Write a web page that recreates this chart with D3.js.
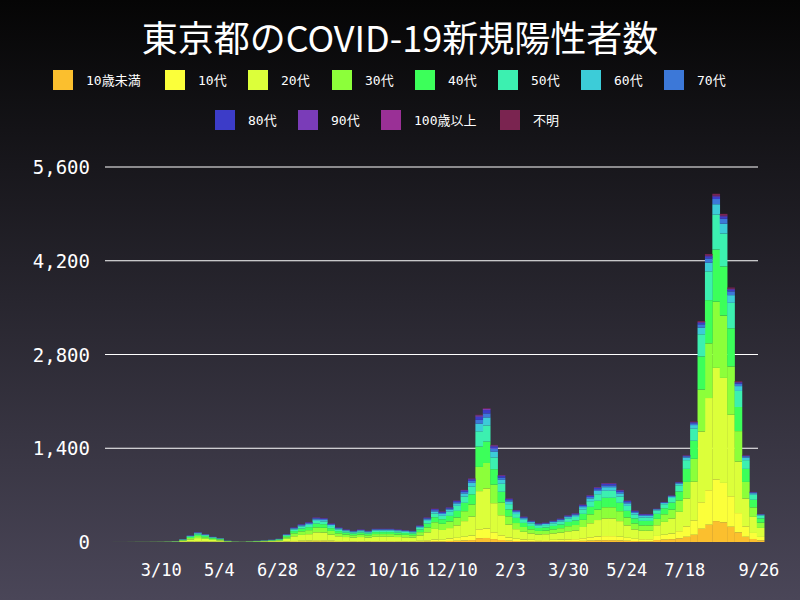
<!DOCTYPE html><html><head><meta charset="utf-8"><script src="https://cdn.jsdelivr.net/npm/d3@7"></script>
<style>body{margin:0}</style></head><body><svg id="c" width="800" height="600"></svg><script>
const ageGroups=["10歳未満","10代","20代","30代","40代","50代","60代","70代","80代","90代","100歳以上","不明"];
const colors=["#fbbf2e","#fbff3a","#dcff3a","#8cff3a","#3cff5a","#3cf0b0","#3cccd8","#3c78d8","#3c3cc8","#7a3cb8","#9a3096","#7a2450"];
const weekStarts=["2020-01-24","2020-01-31","2020-02-07","2020-02-14","2020-02-21","2020-02-28","2020-03-06","2020-03-13","2020-03-20","2020-03-27","2020-04-03","2020-04-10","2020-04-17","2020-04-24","2020-05-01","2020-05-08","2020-05-15","2020-05-22","2020-05-29","2020-06-05","2020-06-12","2020-06-19","2020-06-26","2020-07-03","2020-07-10","2020-07-17","2020-07-24","2020-07-31","2020-08-07","2020-08-14","2020-08-21","2020-08-28","2020-09-04","2020-09-11","2020-09-18","2020-09-25","2020-10-02","2020-10-09","2020-10-16","2020-10-23","2020-10-30","2020-11-06","2020-11-13","2020-11-20","2020-11-27","2020-12-04","2020-12-11","2020-12-18","2020-12-25","2021-01-01","2021-01-08","2021-01-15","2021-01-22","2021-01-29","2021-02-05","2021-02-12","2021-02-19","2021-02-26","2021-03-05","2021-03-12","2021-03-19","2021-03-26","2021-04-02","2021-04-09","2021-04-16","2021-04-23","2021-04-30","2021-05-07","2021-05-14","2021-05-21","2021-05-28","2021-06-04","2021-06-11","2021-06-18","2021-06-25","2021-07-02","2021-07-09","2021-07-16","2021-07-23","2021-07-30","2021-08-06","2021-08-13","2021-08-20","2021-08-27","2021-09-03","2021-09-10","2021-09-17","2021-09-24"];
const dailyAvg=[1,1,2,3,3,4,5,8,15,45,100,150,120,80,60,20,8,5,12,18,25,35,50,120,220,270,300,370,360,280,220,190,170,190,170,200,200,200,190,180,170,250,370,500,460,520,620,780,950,1900,2000,1450,1000,650,480,380,320,280,290,320,350,400,430,560,700,820,880,880,780,620,470,420,420,500,600,700,900,1300,1800,3300,4300,5200,4900,3800,2400,1300,750,420];
const share2020=[2,5,32,20,15,11,6,4,3,1,0.1,0.9];
const share2021a=[3,7,30,19,16,12,6,3,2.5,1,0.1,0.4];
const share2021b=[6,12,32,19,15,10,3,1.5,0.7,0.3,0.05,0.45];
const xTicks=["2020-03-10","2020-05-04","2020-06-28","2020-08-22","2020-10-16","2020-12-10","2021-02-03","2021-03-30","2021-05-24","2021-07-18","2021-09-26"];
const yTicks=[0,1400,2800,4200,5600];

const svg=d3.select("#c");
const defs=svg.append("defs");
const g0=defs.append("linearGradient").attr("id","bg").attr("x1",0).attr("x2",0).attr("y1",0).attr("y2",1);
g0.append("stop").attr("offset","0").attr("stop-color","#050505");
g0.append("stop").attr("offset","1").attr("stop-color","#4a4658");
svg.append("rect").attr("width",800).attr("height",600).attr("fill","url(#bg)");
svg.append("text").attr("x",400).attr("y",52).attr("text-anchor","middle").attr("fill","#fff").attr("font-size",36).attr("font-family","'Noto Sans CJK JP'").text("東京都のCOVID-19新規陽性者数");
const leg=[[53,80],[165,80],[248,80],[332,80],[415,80],[498,80],[581,80],[664,80],[215,120],[298,120],[381,120],[500,120]];
ageGroups.forEach((a,i)=>{const [lx,ly]=leg[i];
svg.append("rect").attr("x",lx).attr("y",ly-10).attr("width",20).attr("height",20).attr("fill",colors[i]);
svg.append("text").attr("x",lx+33).attr("y",ly+5).attr("fill","#fff").attr("font-size",13).attr("font-family","'DejaVu Sans Mono','Noto Sans CJK JP'").text(a);});
const p=d3.timeParse("%Y-%m-%d");
const x=d3.scaleTime().domain([p("2020-01-14"),p("2021-09-28")]).range([102,761]);
const y=d3.scaleLinear().domain([0,5600]).range([542,167]);
svg.append("g").selectAll("line").data(yTicks.slice(1)).join("line").attr("x1",105).attr("x2",758).attr("y1",d=>y(d)).attr("y2",d=>y(d)).attr("stroke","#fff").attr("stroke-width",1.2);
svg.append("g").selectAll("text").data(yTicks).join("text").attr("x",90).attr("y",d=>y(d)+7).attr("text-anchor","end").attr("fill","#fff").attr("font-size",19).attr("font-family","'DejaVu Sans Mono'").text(d3.format(","));
svg.append("g").selectAll("text").data(xTicks).join("text").attr("x",d=>x(p(d))).attr("y",576).attr("text-anchor","middle").attr("fill","#fff").attr("font-size",17).attr("font-family","'DejaVu Sans Mono'").text(d=>d3.timeFormat("%-m/%-d")(p(d)));
const rows=weekStarts.map((w,i)=>{const d=p(w);const sh=d<p("2020-12-01")?share2020:(d<p("2021-06-15")?share2021a:share2021b);const s=d3.sum(sh);const r={date:d};ageGroups.forEach((a,k)=>r[a]=dailyAvg[i]*sh[k]/s);return r;});
const stack=d3.stack().keys(ageGroups)(rows);
const bw=x(p("2020-01-31"))-x(p("2020-01-24"));
svg.append("g").selectAll("g").data(stack).join("g").attr("fill",(d,i)=>colors[i]).selectAll("rect").data(d=>d).join("rect")
.attr("x",d=>x(d.data.date)).attr("width",bw+0.3).attr("y",d=>y(d[1])).attr("height",d=>Math.max(0,y(d[0])-y(d[1])));
</script></body></html>
